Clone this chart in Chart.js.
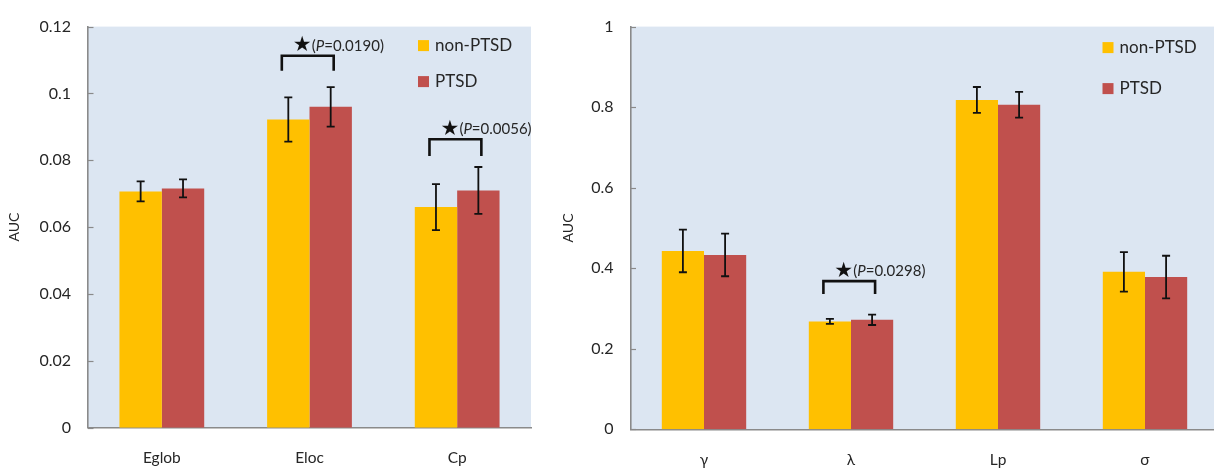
<!DOCTYPE html>
<html>
<head>
<meta charset="utf-8">
<script src="https://cdn.jsdelivr.net/npm/chart.js@4.4.1/dist/chart.umd.min.js"></script>
<style>
  html, body { margin: 0; padding: 0; background: #fff; overflow: hidden; width: 1214px; height: 469px; }
  canvas { position: absolute; top: 0; }
  #chartLeft { left: 0; }
  #chartRight { left: 550px; }
</style>
</head>
<body>
<canvas id="chartLeft" width="550" height="469"></canvas>
<canvas id="chartRight" width="680" height="469"></canvas>
<script>
// data
const seriesLabels = ['non-PTSD', 'PTSD'];

const leftCategories = ['Eglob', 'Eloc', 'Cp'];
const leftNonPtsd = [0.0707, 0.0922, 0.0660];
const leftPtsd = [0.0716, 0.0960, 0.0710];
const leftNonPtsdErr = [0.0030, 0.0066, 0.0069];
const leftPtsdErr = [0.0027, 0.0059, 0.0070];
const leftTicks = [0, 0.02, 0.04, 0.06, 0.08, 0.1, 0.12];
const leftSignif = [
  { index: 1, top: 0.1113, leg: 0.1068, p: '0.0190' },
  { index: 2, top: 0.0863, leg: 0.0813, p: '0.0056' },
];

const rightCategories = ['γ', 'λ', 'Lp', 'σ'];
const rightNonPtsd = [0.443, 0.268, 0.818, 0.391];
const rightPtsd = [0.433, 0.272, 0.806, 0.378];
const rightNonPtsdErr = [0.053, 0.006, 0.032, 0.049];
const rightPtsdErr = [0.053, 0.013, 0.032, 0.053];
const rightTicks = [0, 0.2, 0.4, 0.6, 0.8, 1];
const rightSignif = [
  { index: 1, top: 0.368, leg: 0.336, p: '0.0298' },
];

const COLORS = ['#FFC000', '#C0504D'];
const PLOT_BG = '#DCE6F2';
const AXIS = '#8a8a8a';
const TEXT = '#262626';
const FONT = 'Lato, "Open Sans", sans-serif';

const panelPlugin = {
  id: 'panel',
  beforeDraw(chart) {
    const { ctx, chartArea: a } = chart;
    ctx.save();
    ctx.fillStyle = PLOT_BG;
    ctx.fillRect(a.left, a.top, a.right - a.left, a.bottom - a.top);
    ctx.restore();
  },
  afterDatasetsDraw(chart, args, opts) {
    const { ctx } = chart;
    const y = chart.scales.y;
    ctx.save();
    ctx.strokeStyle = '#111';

    // error bars
    ctx.lineWidth = 1.8;
    opts.errors.forEach((errs, di) => {
      const meta = chart.getDatasetMeta(di);
      const values = chart.data.datasets[di].data;
      meta.data.forEach((bar, i) => {
        const top = y.getPixelForValue(values[i] + errs[i]);
        const bottom = y.getPixelForValue(values[i] - errs[i]);
        ctx.beginPath();
        ctx.moveTo(bar.x, top);
        ctx.lineTo(bar.x, bottom);
        ctx.moveTo(bar.x - 4, top);
        ctx.lineTo(bar.x + 4, top);
        ctx.moveTo(bar.x - 4, bottom);
        ctx.lineTo(bar.x + 4, bottom);
        ctx.stroke();
      });
    });

    // significance brackets
    opts.signif.forEach((s) => {
      const a = chart.getDatasetMeta(0).data[s.index];
      const b = chart.getDatasetMeta(1).data[s.index];
      const xL = a.x - 6.5;
      const xR = b.x + 3;
      const yTop = y.getPixelForValue(s.top);
      const yLeg = y.getPixelForValue(s.leg);
      ctx.lineWidth = 2.6;
      ctx.lineJoin = 'miter';
      ctx.beginPath();
      ctx.moveTo(xL, yLeg);
      ctx.lineTo(xL, yTop);
      ctx.lineTo(xR, yTop);
      ctx.lineTo(xR, yLeg);
      ctx.stroke();

      const cx = (xL + xR) / 2 - 5.5;
      const cy = yTop - 11;
      ctx.fillStyle = '#111';
      ctx.textAlign = 'center';
      ctx.textBaseline = 'middle';
      ctx.font = '21px "DejaVu Sans"';
      ctx.fillText('★', cx, cy + 1);

      ctx.fillStyle = TEXT;
      ctx.textAlign = 'left';
      let x = cx + 9.5;
      const parts = [['(', ''], ['P', 'italic '], ['=' + s.p + ')', '']];
      parts.forEach(([t, style]) => {
        ctx.font = style + '15px ' + FONT;
        ctx.fillText(t, x, cy + 1);
        x += ctx.measureText(t).width;
      });
    });
    ctx.restore();
  },
  afterDraw(chart, args, opts) {
    const { ctx, chartArea: a } = chart;
    const y = chart.scales.y;
    ctx.save();
    // inward tick marks on the value axis
    ctx.strokeStyle = AXIS;
    ctx.lineWidth = 1.2;
    y.ticks.forEach((t, i) => {
      const py = Math.round(y.getPixelForTick(i)) + 0.5;
      ctx.beginPath();
      ctx.moveTo(a.left, py);
      ctx.lineTo(a.left + 5.5, py);
      ctx.stroke();
    });

    // legend
    ctx.font = '17px ' + FONT;
    ctx.textAlign = 'left';
    ctx.textBaseline = 'middle';
    chart.data.datasets.forEach((ds, i) => {
      const sx = a.right - opts.legend.fromRight;
      const sy = a.top + opts.legend.rows[i];
      ctx.fillStyle = ds.backgroundColor;
      ctx.fillRect(sx, sy - 5.5, 11, 11);
      ctx.fillStyle = TEXT;
      ctx.fillText(ds.label, sx + 17, sy);
    });
    ctx.restore();
  },
};

function makeChart(canvas, cfg) {
  return new Chart(canvas.getContext('2d'), {
    type: 'bar',
    data: {
      labels: cfg.categories,
      datasets: [
        { label: seriesLabels[0], data: cfg.nonPtsd, backgroundColor: COLORS[0], borderWidth: 0 },
        { label: seriesLabels[1], data: cfg.ptsd, backgroundColor: COLORS[1], borderWidth: 0 },
      ],
    },
    options: {
      responsive: false,
      animation: false,
      events: [],
      layout: { padding: { top: cfg.top, right: cfg.right, left: 0, bottom: 0 } },
      datasets: { bar: { categoryPercentage: 0.574, barPercentage: 1.0 } },
      scales: {
        x: {
          grid: { display: false, drawTicks: false },
          border: { color: AXIS, width: 1.6 },
          ticks: { color: TEXT, font: { family: FONT, size: 15.5 }, padding: 21 },
          afterFit: (scale) => { scale.height = cfg.xHeight; },
        },
        y: {
          min: 0,
          max: cfg.ticks[cfg.ticks.length - 1],
          grid: { display: false, drawTicks: false },
          border: { color: AXIS, width: 1.6 },
          afterBuildTicks: (scale) => { scale.ticks = cfg.ticks.map((v) => ({ value: v })); },
          ticks: {
            color: TEXT,
            font: { family: FONT, size: 16 },
            padding: 17,
            callback: (v) => String(Number(v.toFixed(2))),
          },
          title: {
            display: true,
            text: 'AUC',
            color: TEXT,
            font: { family: FONT, size: 14 },
            padding: { top: cfg.titlePad, bottom: 0 },
          },
          afterFit: (scale) => { scale.width = cfg.yWidth; },
        },
      },
      plugins: {
        legend: { display: false },
        tooltip: { enabled: false },
        panel: {
          errors: [cfg.nonPtsdErr, cfg.ptsdErr],
          signif: cfg.signif,
          legend: cfg.legend,
        },
      },
    },
    plugins: [panelPlugin],
  });
}

makeChart(document.getElementById('chartLeft'), {
  categories: leftCategories,
  nonPtsd: leftNonPtsd,
  ptsd: leftPtsd,
  nonPtsdErr: leftNonPtsdErr,
  ptsdErr: leftPtsdErr,
  ticks: leftTicks,
  signif: leftSignif,
  top: 17,
  right: 19,
  xHeight: 41.3,
  yWidth: 88,
  titlePad: 5.6,
  legend: { fromRight: 113, rows: [19, 55] },
});

makeChart(document.getElementById('chartRight'), {
  categories: rightCategories,
  nonPtsd: rightNonPtsd,
  ptsd: rightPtsd,
  nonPtsdErr: rightNonPtsdErr,
  ptsdErr: rightPtsdErr,
  ticks: rightTicks,
  signif: rightSignif,
  top: 16.7,
  right: 11.5,
  xHeight: 39.7,
  yWidth: 80.5,
  titlePad: 9.6,
  legend: { fromRight: 116, rows: [21, 62] },
});
</script>
</body>
</html>
